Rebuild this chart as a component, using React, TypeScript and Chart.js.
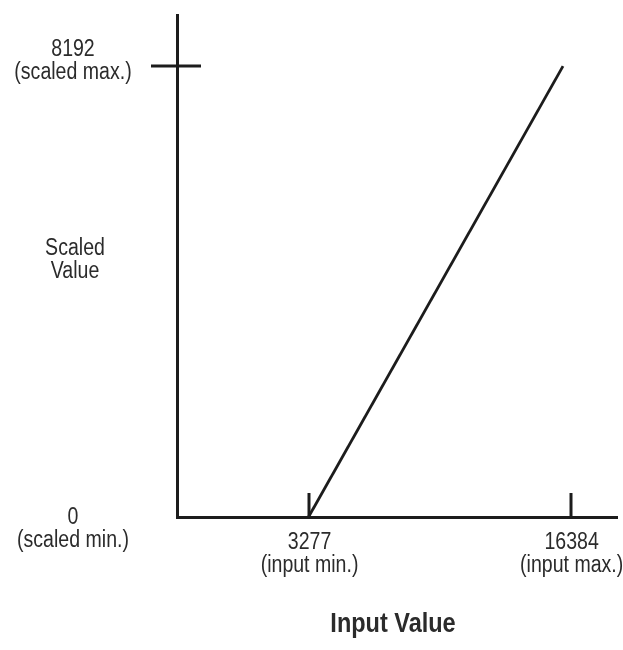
import React, { useEffect, useRef } from "react";
import { Chart, registerables } from "chart.js";

Chart.register(...registerables);

// Data
const lineX: number[] = [3277, 16000];
const lineY: number[] = [0, 8192];
const xTickValues: number[] = [3277, 16384];
const xTickLabels: string[][] = [["3277", "(input min.)"], ["16384", "(input max.)"]];
const yTickValues: number[] = [0, 8192];
const yTickLabels: string[][] = [["0", "(scaled min.)"], ["8192", "(scaled max.)"]];
const xAxisTitle = "Input Value";
const yAxisTitle: string[] = ["Scaled", "Value"];

const FONT = '"Liberation Sans", Arial, sans-serif';
const INK = "#1c1c1c";
const TEXT = "#2b2b2b";
const CONDENSE = 0.85;

function drawText(ctx: CanvasRenderingContext2D, t: string, x: number, y: number, sx: number) {
  ctx.save();
  ctx.translate(x, y);
  ctx.scale(sx, 1);
  ctx.fillText(t, 0, 0);
  ctx.restore();
}

const annotatePlugin = {
  id: "annotate",
  afterDraw(chart: any) {
    const { ctx, chartArea, scales } = chart;
    const xs = scales.x;
    const ys = scales.y;
    ctx.save();
    ctx.strokeStyle = INK;
    ctx.lineWidth = 3;
    ctx.lineCap = "butt";
    // x tick marks (inside, upward)
    xTickValues.forEach((v) => {
      const px = Math.round(xs.getPixelForValue(v));
      ctx.beginPath();
      ctx.moveTo(px, chartArea.bottom - 24);
      ctx.lineTo(px, chartArea.bottom);
      ctx.stroke();
    });
    // y tick marks (crossing the axis), none at the origin
    yTickValues.forEach((v) => {
      if (v === ys.min) return;
      const py = Math.round(ys.getPixelForValue(v));
      ctx.beginPath();
      ctx.moveTo(chartArea.left - 26, py);
      ctx.lineTo(chartArea.left + 24, py);
      ctx.stroke();
    });

    ctx.fillStyle = TEXT;
    ctx.textAlign = "center";
    ctx.textBaseline = "middle";
    ctx.font = `23px ${FONT}`;
    const lh = 23;
    // x tick labels
    xTickValues.forEach((v, i) => {
      const px = xs.getPixelForValue(v);
      xTickLabels[i].forEach((t, j) => {
        drawText(ctx, t, px + 1, chartArea.bottom + 26 + j * lh, CONDENSE);
      });
    });
    // y tick labels
    const labelX = chartArea.left - 104;
    yTickValues.forEach((v, i) => {
      const py = ys.getPixelForValue(v);
      const startY = v === ys.min ? py + 1 : py - 16;
      yTickLabels[i].forEach((t, j) => {
        drawText(ctx, t, labelX, startY + j * lh, CONDENSE);
      });
    });
    // y axis title
    const midY = (chartArea.top + chartArea.bottom) / 2 - 6;
    yAxisTitle.forEach((t, j) => {
      drawText(ctx, t, labelX + 2, midY - lh / 2 + j * lh, CONDENSE);
    });
    // x axis title
    ctx.font = `bold 27px ${FONT}`;
    drawText(ctx, xAxisTitle, (chartArea.left + chartArea.right) / 2 - 4, chartArea.bottom + 108, 0.87);
    ctx.restore();
  },
};

export default function App() {
  const ref = useRef<HTMLCanvasElement | null>(null);
  useEffect(() => {
    if (!ref.current) return;
    const chart = new Chart(ref.current, {
      type: "scatter",
      data: {
        datasets: [
          {
            data: lineX.map((x, i) => ({ x, y: lineY[i] })),
            showLine: true,
            borderColor: INK,
            borderWidth: 2.8,
            pointRadius: 0,
            fill: false,
          },
        ],
      },
      options: {
        responsive: false,
        animation: false,
        devicePixelRatio: 1,
        layout: { padding: { left: 177, top: 15, right: 6, bottom: 133 } },
        plugins: { legend: { display: false }, tooltip: { enabled: false }, title: { display: false } },
        scales: {
          x: {
            type: "linear",
            min: -3300,
            max: 18700,
            grid: { display: false, drawTicks: false },
            border: { display: true, color: INK, width: 3 },
            ticks: { display: false },
            afterFit: (s: any) => {
              s.height = 0;
            },
          },
          y: {
            type: "linear",
            min: 0,
            max: 9120,
            grid: { display: false, drawTicks: false },
            border: { display: true, color: INK, width: 3 },
            ticks: { display: false },
            afterFit: (s: any) => {
              s.width = 0;
            },
          },
        },
      },
      plugins: [annotatePlugin],
    });
    return () => chart.destroy();
  }, []);
  return (
    <div style={{ position: "absolute", left: 0, top: 0, width: 623, height: 650, background: "#fff" }}>
      <canvas ref={ref} width={623} height={650} />
    </div>
  );
}
